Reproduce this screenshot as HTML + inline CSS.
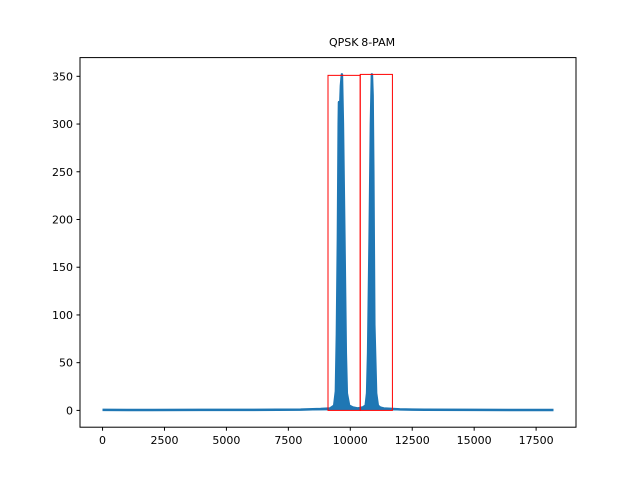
<!DOCTYPE html>
<html><head><meta charset="utf-8"><style>
body{margin:0;background:#fff;}
text{font-family:"DejaVu Sans","Liberation Sans",sans-serif;font-size:11px;fill:#000;}
</style></head><body>
<svg id="chart" width="640" height="480">
<rect width="640" height="480" fill="#fff"/>
<g id="plot"></g>
</svg>
<script>
const xVals=[0,2000,4000,6000,8000,8800,9180,9350,9420,9460,9500,9530,9545,9570,9620,9660,9700,9760,9820,9860,9950,10100,10300,10500,10620,10680,10720,10780,10830,10870,10900,10930,10970,11040,11110,11200,11350,12000,12500,13000,15000,17000,18200];
const yVals=[0.5,0.4,0.5,0.5,0.8,1.5,2,5,20,80,180,300,323,300,340,352,300,180,60,18,5,3,2,3,5,18,60,180,300,352,330,250,90,18,5,3,2,1,0.8,0.6,0.5,0.4,0.4];
const rectLabels=["QPSK","8-PAM"];
const rectX0=[9100,10400];
const rectX1=[10400,11700];
const rectTop=[351,352];
const xTicks=[0,2500,5000,7500,10000,12500,15000,17500];
const yTicks=[0,50,100,150,200,250,300,350];
const L=80,R=576,T=57.6,B=427.2,xmin=-910,xmax=19110,ymin=-17.6,ymax=369.6;
const sx=v=>L+(v-xmin)/(xmax-xmin)*(R-L);
const sy=v=>B-(v-ymin)/(ymax-ymin)*(B-T);
const NS="http://www.w3.org/2000/svg",g=document.getElementById('plot');
function mk(t,a){const e=document.createElementNS(NS,t);for(const k in a)e.setAttribute(k,a[k]);g.appendChild(e);return e;}
let pts=xVals.map((x,i)=>sx(x).toFixed(1)+","+sy(yVals[i]).toFixed(1)).join(" ");
let area=mk('polygon',{points:sx(xVals[0])+","+sy(0)+" "+pts+" "+sx(xVals[xVals.length-1])+","+sy(0),fill:'#1f77b4'});


let line=mk('polyline',{points:pts,fill:'none',stroke:'#1f77b4','stroke-width':2.5,'stroke-linejoin':'round'});


rectLabels.forEach((lab,i)=>{
 let r=mk('rect',{x:sx(rectX0[i]),y:sy(rectTop[i]),width:sx(rectX1[i])-sx(rectX0[i]),height:sy(0)-sy(rectTop[i]),fill:'none',stroke:'red','stroke-width':1});
 
 
 let t=mk('text',{x:sx(rectX0[i])+1,y:46,'text-anchor':'start'});t.textContent=lab;
 
 
});
let fr=mk('rect',{x:L,y:T,width:R-L,height:B-T,fill:'none',stroke:'#000','stroke-width':1});


xTicks.forEach(v=>{mk('line',{x1:sx(v),x2:sx(v),y1:B,y2:B+3.5,stroke:'#000'});
 let t=mk('text',{x:sx(v),y:B+17,'text-anchor':'middle'});t.textContent=v;
 
 });
yTicks.forEach(v=>{mk('line',{x1:L-3.5,x2:L,y1:sy(v),y2:sy(v),stroke:'#000'});
 let t=mk('text',{x:L-7,y:sy(v)+4,'text-anchor':'end'});t.textContent=v;
 
 });
</script>
</body></html>
